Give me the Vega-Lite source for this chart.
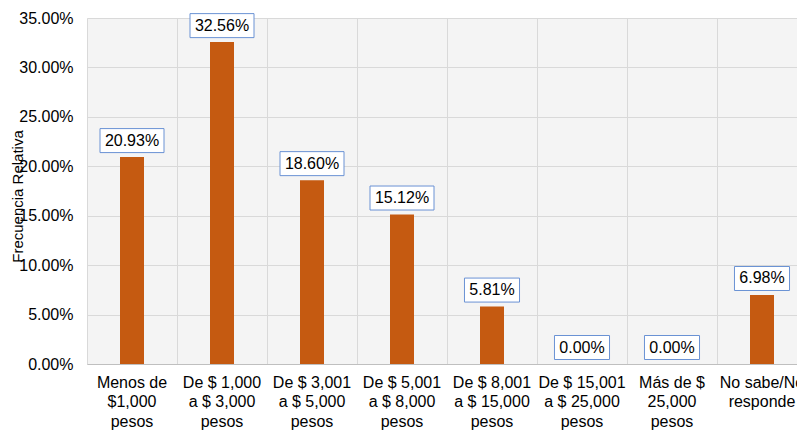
{
  "$schema": "https://vega.github.io/schema/vega-lite/v6.json",
  "width": 720,
  "height": 346,
  "autosize": {"type": "none"},
  "padding": {"left": 87, "top": 18, "right": 0, "bottom": 67},
  "background": "white",
  "config": {
    "view": {"fill": "#f4f4f4", "stroke": null},
    "font": "Liberation Sans"
  },
  "data": {
    "values": [
      {"cat": "Menos de\n$1,000\npesos", "value": 0.2093},
      {"cat": "De $ 1,000\na $ 3,000\npesos", "value": 0.3256},
      {"cat": "De $ 3,001\na $ 5,000\npesos", "value": 0.1860},
      {"cat": "De $ 5,001\na $ 8,000\npesos", "value": 0.1512},
      {"cat": "De $ 8,001\na $ 15,000\npesos", "value": 0.0581},
      {"cat": "De $ 15,001\na $ 25,000\npesos", "value": 0.0},
      {"cat": "Más de $\n25,000\npesos", "value": 0.0},
      {"cat": "No sabe/No\nresponde", "value": 0.0698}
    ]
  },
  "encoding": {
    "x": {
      "field": "cat",
      "type": "nominal",
      "sort": null,
      "scale": {"paddingInner": 0, "paddingOuter": 0},
      "axis": {
        "title": null,
        "labelExpr": "split(datum.label, '\\n')",
        "labelAngle": 0,
        "labelFontSize": 16,
        "labelLineHeight": 19.5,
        "labelPadding": 10,
        "labelColor": "black",
        "labelLimit": 300,
        "labelOverlap": false,
        "ticks": false,
        "domain": true,
        "domainColor": "#bfbfbf",
        "grid": true,
        "bandPosition": 0,
        "gridColor": "#d9d9d9"
      }
    },
    "y": {
      "field": "value",
      "type": "quantitative",
      "scale": {"domain": [0, 0.35]},
      "axis": {
        "values": [0, 0.05, 0.1, 0.15, 0.2, 0.25, 0.3, 0.35],
        "format": ".2%",
        "labelFontSize": 16,
        "labelPadding": 14,
        "labelColor": "black",
        "ticks": false,
        "domain": false,
        "gridColor": "#d9d9d9",
        "title": "Frecuencia Relativa",
        "titleFontSize": 15,
        "titleFontWeight": "normal",
        "titleColor": "black",
        "titleAngle": -90,
        "titleAlign": "center",
        "titleBaseline": "middle",
        "titleX": -70,
        "titleY": 178
      }
    }
  },
  "layer": [
    {"mark": {"type": "bar", "width": 24, "color": "#C55A11"}},
    {
      "mark": {
        "type": "point",
        "filled": true,
        "fill": "white",
        "stroke": "#6A92D4",
        "strokeWidth": 1,
        "size": 4096,
        "opacity": 1,
        "yOffset": -16.5
      },
      "encoding": {
        "shape": {
          "condition": {"test": "datum.value >= 0.1", "value": "M-1,-0.375L1,-0.375L1,0.375L-1,0.375Z"},
          "value": "M-0.86,-0.375L0.86,-0.375L0.86,0.375L-0.86,0.375Z"
        }
      }
    },
    {
      "mark": {"type": "text", "fontSize": 16, "yOffset": -16.5, "baseline": "middle", "color": "black"},
      "encoding": {"text": {"field": "value", "type": "quantitative", "format": ".2%"}}
    }
  ]
}
